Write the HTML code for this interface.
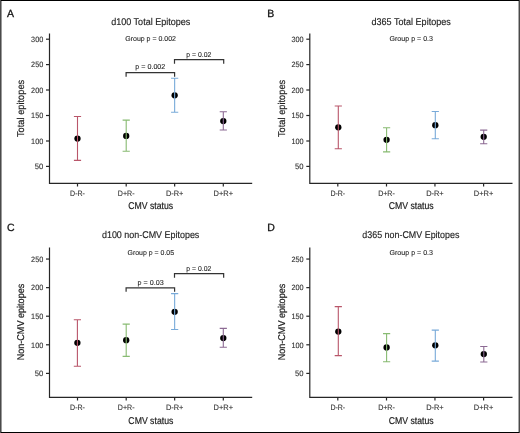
<!DOCTYPE html>
<html><head><meta charset="utf-8"><title>Epitopes by CMV status</title>
<style>
html,body{margin:0;padding:0;background:#fff;}
body{width:520px;height:433px;overflow:hidden;position:relative;}
svg{position:absolute;left:0;top:0;display:block;}
text{font-family:"Liberation Sans", sans-serif;text-rendering:geometricPrecision;stroke-width:0.3px;paint-order:stroke;}
.lt{font-size:10.5px;fill:#111;stroke:#111;}
.tt{font-size:9.8px;fill:#222;stroke:#222;stroke-width:0.15px;text-anchor:middle;}
.gp{font-size:7.1px;fill:#222;stroke:#222;stroke-width:0.1px;text-anchor:middle;}
.yt{font-size:7.8px;fill:#333;stroke:#333;stroke-width:0.12px;text-anchor:end;}
.xt{font-size:7.8px;fill:#333;stroke:#333;stroke-width:0.12px;text-anchor:middle;}
.at{font-size:9.9px;fill:#222;stroke:#222;stroke-width:0.2px;text-anchor:middle;}
.bt{font-size:7.1px;fill:#222;stroke:#222;stroke-width:0.1px;text-anchor:middle;}
.ax{stroke:#262626;stroke-width:1.2;fill:none;}
.br{stroke:#333;stroke-width:1.2;fill:none;}
</style></head>
<body>
<svg width="520" height="433" viewBox="0 0 520 433">
<defs><filter id="gs" x="0" y="0" width="520" height="433" filterUnits="userSpaceOnUse"><feColorMatrix type="saturate" values="0"/></filter></defs>
<rect x="0" y="0" width="520" height="433" fill="#fff"/>
<path d="M49.5 33.5V183.3H252.2" class="ax"/>
<path d="M46 39.2H49.5" class="ax"/>
<path d="M46 64.6H49.5" class="ax"/>
<path d="M46 90H49.5" class="ax"/>
<path d="M46 115.5H49.5" class="ax"/>
<path d="M46 141H49.5" class="ax"/>
<path d="M46 166.4H49.5" class="ax"/>
<path d="M77.5 183.3V186.5" class="ax"/>
<path d="M126.2 183.3V186.5" class="ax"/>
<path d="M174.65 183.3V186.5" class="ax"/>
<path d="M223.3 183.3V186.5" class="ax"/>
<circle cx="77.5" cy="138.6" r="3.15" fill="#000"/>
<circle cx="126.2" cy="135.9" r="3.15" fill="#000"/>
<circle cx="174.65" cy="95.3" r="3.15" fill="#000"/>
<circle cx="223.3" cy="121.1" r="3.15" fill="#000"/>
<path d="M73.9 116.5H81.1M77.5 116.5V160.4M73.9 160.4H81.1" stroke="#b9566a" stroke-width="1.1" fill="none"/>
<path d="M122.6 120.1H129.8M126.2 120.1V151.2M122.6 151.2H129.8" stroke="#88bb72" stroke-width="1.1" fill="none"/>
<path d="M171.05 78.3H178.25M174.65 78.3V112.2M171.05 112.2H178.25" stroke="#78aad9" stroke-width="1.1" fill="none"/>
<path d="M219.7 111.7H226.9M223.3 111.7V130M219.7 130H226.9" stroke="#8c6a93" stroke-width="1.1" fill="none"/>
<path d="M126.1 76.7V72.6H174.6V76.7" class="br"/>
<path d="M174.5 63.7V59.65H223.7V63.7" class="br"/>
<path d="M309.8 33.5V183.3H512.5" class="ax"/>
<path d="M306.3 39.2H309.8" class="ax"/>
<path d="M306.3 64.6H309.8" class="ax"/>
<path d="M306.3 90H309.8" class="ax"/>
<path d="M306.3 115.5H309.8" class="ax"/>
<path d="M306.3 141H309.8" class="ax"/>
<path d="M306.3 166.4H309.8" class="ax"/>
<path d="M337.8 183.3V186.5" class="ax"/>
<path d="M386.5 183.3V186.5" class="ax"/>
<path d="M434.95 183.3V186.5" class="ax"/>
<path d="M483.6 183.3V186.5" class="ax"/>
<circle cx="338.3" cy="127.3" r="3.15" fill="#000"/>
<circle cx="386.6" cy="139.8" r="3.15" fill="#000"/>
<circle cx="435.3" cy="125.2" r="3.15" fill="#000"/>
<circle cx="483.7" cy="136.8" r="3.15" fill="#000"/>
<path d="M334.7 106H341.9M338.3 106V148.7M334.7 148.7H341.9" stroke="#b9566a" stroke-width="1.1" fill="none"/>
<path d="M383 127.7H390.2M386.6 127.7V151.9M383 151.9H390.2" stroke="#88bb72" stroke-width="1.1" fill="none"/>
<path d="M431.7 111.5H438.9M435.3 111.5V138.75M431.7 138.75H438.9" stroke="#78aad9" stroke-width="1.1" fill="none"/>
<path d="M480.1 130.1H487.3M483.7 130.1V143.7M480.1 143.7H487.3" stroke="#8c6a93" stroke-width="1.1" fill="none"/>
<path d="M49.5 247.5V397.3H252.2" class="ax"/>
<path d="M46 259.05H49.5" class="ax"/>
<path d="M46 287.64H49.5" class="ax"/>
<path d="M46 316.2H49.5" class="ax"/>
<path d="M46 344.8H49.5" class="ax"/>
<path d="M46 373.4H49.5" class="ax"/>
<path d="M77.5 397.3V400.5" class="ax"/>
<path d="M126.2 397.3V400.5" class="ax"/>
<path d="M174.65 397.3V400.5" class="ax"/>
<path d="M223.3 397.3V400.5" class="ax"/>
<circle cx="77.4" cy="342.8" r="3.15" fill="#000"/>
<circle cx="126.2" cy="340.2" r="3.15" fill="#000"/>
<circle cx="174.65" cy="311.8" r="3.15" fill="#000"/>
<circle cx="223.3" cy="338.1" r="3.15" fill="#000"/>
<path d="M73.8 319.7H81M77.4 319.7V366.3M73.8 366.3H81" stroke="#b9566a" stroke-width="1.1" fill="none"/>
<path d="M122.6 324.1H129.8M126.2 324.1V356.4M122.6 356.4H129.8" stroke="#88bb72" stroke-width="1.1" fill="none"/>
<path d="M171.05 293.6H178.25M174.65 293.6V329.5M171.05 329.5H178.25" stroke="#78aad9" stroke-width="1.1" fill="none"/>
<path d="M219.7 328.4H226.9M223.3 328.4V347.3M219.7 347.3H226.9" stroke="#8c6a93" stroke-width="1.1" fill="none"/>
<path d="M126.1 291.8V287.8H174.6V291.8" class="br"/>
<path d="M174.5 277.7V273.7H223.65V277.7" class="br"/>
<path d="M309.8 247.5V397.3H512.5" class="ax"/>
<path d="M306.3 259.05H309.8" class="ax"/>
<path d="M306.3 287.64H309.8" class="ax"/>
<path d="M306.3 316.2H309.8" class="ax"/>
<path d="M306.3 344.8H309.8" class="ax"/>
<path d="M306.3 373.4H309.8" class="ax"/>
<path d="M337.8 397.3V400.5" class="ax"/>
<path d="M386.5 397.3V400.5" class="ax"/>
<path d="M434.95 397.3V400.5" class="ax"/>
<path d="M483.6 397.3V400.5" class="ax"/>
<circle cx="338.3" cy="331.6" r="3.15" fill="#000"/>
<circle cx="386.6" cy="347.4" r="3.15" fill="#000"/>
<circle cx="435.3" cy="345.3" r="3.15" fill="#000"/>
<circle cx="483.8" cy="354.1" r="3.15" fill="#000"/>
<path d="M334.7 306.6H341.9M338.3 306.6V355.6M334.7 355.6H341.9" stroke="#b9566a" stroke-width="1.1" fill="none"/>
<path d="M383 333.6H390.2M386.6 333.6V361.8M383 361.8H390.2" stroke="#88bb72" stroke-width="1.1" fill="none"/>
<path d="M431.7 330.1H438.9M435.3 330.1V361.1M431.7 361.1H438.9" stroke="#78aad9" stroke-width="1.1" fill="none"/>
<path d="M480.2 346.5H487.4M483.8 346.5V362M480.2 362H487.4" stroke="#8c6a93" stroke-width="1.1" fill="none"/>
<g filter="url(#gs)"><text x="7" y="16.6" class="lt">A</text>
<text x="43.3" y="41.9" class="yt" textLength="12.2" lengthAdjust="spacingAndGlyphs">300</text>
<text x="43.3" y="67.3" class="yt" textLength="12.2" lengthAdjust="spacingAndGlyphs">250</text>
<text x="43.3" y="92.7" class="yt" textLength="12.2" lengthAdjust="spacingAndGlyphs">200</text>
<text x="43.3" y="118.2" class="yt" textLength="12.2" lengthAdjust="spacingAndGlyphs">150</text>
<text x="43.3" y="143.7" class="yt" textLength="12.2" lengthAdjust="spacingAndGlyphs">100</text>
<text x="43.3" y="169.1" class="yt" textLength="8.5" lengthAdjust="spacingAndGlyphs">50</text>
<text x="77.5" y="196.3" class="xt" textLength="14.8" lengthAdjust="spacingAndGlyphs">D-R-</text>
<text x="126.2" y="196.3" class="xt" textLength="16.7" lengthAdjust="spacingAndGlyphs">D+R-</text>
<text x="174.65" y="196.3" class="xt" textLength="17.5" lengthAdjust="spacingAndGlyphs">D-R+</text>
<text x="223.3" y="196.3" class="xt" textLength="19.5" lengthAdjust="spacingAndGlyphs">D+R+</text>
<text x="267.3" y="16.6" class="lt">B</text>
<text x="303.6" y="41.9" class="yt" textLength="12.2" lengthAdjust="spacingAndGlyphs">300</text>
<text x="303.6" y="67.3" class="yt" textLength="12.2" lengthAdjust="spacingAndGlyphs">250</text>
<text x="303.6" y="92.7" class="yt" textLength="12.2" lengthAdjust="spacingAndGlyphs">200</text>
<text x="303.6" y="118.2" class="yt" textLength="12.2" lengthAdjust="spacingAndGlyphs">150</text>
<text x="303.6" y="143.7" class="yt" textLength="12.2" lengthAdjust="spacingAndGlyphs">100</text>
<text x="303.6" y="169.1" class="yt" textLength="8.5" lengthAdjust="spacingAndGlyphs">50</text>
<text x="337.8" y="196.3" class="xt" textLength="14.8" lengthAdjust="spacingAndGlyphs">D-R-</text>
<text x="386.5" y="196.3" class="xt" textLength="16.7" lengthAdjust="spacingAndGlyphs">D+R-</text>
<text x="434.95" y="196.3" class="xt" textLength="17.5" lengthAdjust="spacingAndGlyphs">D-R+</text>
<text x="483.6" y="196.3" class="xt" textLength="19.5" lengthAdjust="spacingAndGlyphs">D+R+</text>
<text x="7" y="230.6" class="lt">C</text>
<text x="43.3" y="261.75" class="yt" textLength="12.2" lengthAdjust="spacingAndGlyphs">250</text>
<text x="43.3" y="290.34" class="yt" textLength="12.2" lengthAdjust="spacingAndGlyphs">200</text>
<text x="43.3" y="318.9" class="yt" textLength="12.2" lengthAdjust="spacingAndGlyphs">150</text>
<text x="43.3" y="347.5" class="yt" textLength="12.2" lengthAdjust="spacingAndGlyphs">100</text>
<text x="43.3" y="376.1" class="yt" textLength="8.5" lengthAdjust="spacingAndGlyphs">50</text>
<text x="77.5" y="410.3" class="xt" textLength="14.8" lengthAdjust="spacingAndGlyphs">D-R-</text>
<text x="126.2" y="410.3" class="xt" textLength="16.7" lengthAdjust="spacingAndGlyphs">D+R-</text>
<text x="174.65" y="410.3" class="xt" textLength="17.5" lengthAdjust="spacingAndGlyphs">D-R+</text>
<text x="223.3" y="410.3" class="xt" textLength="19.5" lengthAdjust="spacingAndGlyphs">D+R+</text>
<text x="267.3" y="230.6" class="lt">D</text>
<text x="303.6" y="261.75" class="yt" textLength="12.2" lengthAdjust="spacingAndGlyphs">250</text>
<text x="303.6" y="290.34" class="yt" textLength="12.2" lengthAdjust="spacingAndGlyphs">200</text>
<text x="303.6" y="318.9" class="yt" textLength="12.2" lengthAdjust="spacingAndGlyphs">150</text>
<text x="303.6" y="347.5" class="yt" textLength="12.2" lengthAdjust="spacingAndGlyphs">100</text>
<text x="303.6" y="376.1" class="yt" textLength="8.5" lengthAdjust="spacingAndGlyphs">50</text>
<text x="337.8" y="410.3" class="xt" textLength="14.8" lengthAdjust="spacingAndGlyphs">D-R-</text>
<text x="386.5" y="410.3" class="xt" textLength="16.7" lengthAdjust="spacingAndGlyphs">D+R-</text>
<text x="434.95" y="410.3" class="xt" textLength="17.5" lengthAdjust="spacingAndGlyphs">D-R+</text>
<text x="483.6" y="410.3" class="xt" textLength="19.5" lengthAdjust="spacingAndGlyphs">D+R+</text>
<text x="150.75" y="24.5" class="tt" textLength="79.2" lengthAdjust="spacingAndGlyphs">d100 Total Epitopes</text>
<text x="411.15" y="24.5" class="tt" textLength="79.2" lengthAdjust="spacingAndGlyphs">d365 Total Epitopes</text>
<text x="150.65" y="238.3" class="tt" textLength="97.4" lengthAdjust="spacingAndGlyphs">d100 non-CMV Epitopes</text>
<text x="410.85" y="238.3" class="tt" textLength="97" lengthAdjust="spacingAndGlyphs">d365 non-CMV Epitopes</text>
<text x="150.6" y="41.2" class="gp" textLength="50.7" lengthAdjust="spacingAndGlyphs">Group p = 0.002</text>
<text x="411.25" y="41.2" class="gp" textLength="43.6" lengthAdjust="spacingAndGlyphs">Group p = 0.3</text>
<text x="150.8" y="255.2" class="gp" textLength="46.5" lengthAdjust="spacingAndGlyphs">Group p = 0.05</text>
<text x="411.25" y="255.2" class="gp" textLength="43.6" lengthAdjust="spacingAndGlyphs">Group p = 0.3</text>
<text x="150.65" y="209.4" class="at" textLength="45" lengthAdjust="spacingAndGlyphs">CMV status</text>
<text x="411.15" y="209.4" class="at" textLength="45" lengthAdjust="spacingAndGlyphs">CMV status</text>
<text x="150.85" y="423.6" class="at" textLength="45" lengthAdjust="spacingAndGlyphs">CMV status</text>
<text x="411.15" y="423.6" class="at" textLength="45" lengthAdjust="spacingAndGlyphs">CMV status</text>
<text x="150.3" y="69" class="bt" textLength="30.1" lengthAdjust="spacingAndGlyphs">p = 0.002</text>
<text x="198.85" y="56.5" class="bt" textLength="25" lengthAdjust="spacingAndGlyphs">p = 0.02</text>
<text x="150.6" y="284.5" class="bt" textLength="26.1" lengthAdjust="spacingAndGlyphs">p = 0.03</text>
<text x="198.85" y="270.5" class="bt" textLength="25" lengthAdjust="spacingAndGlyphs">p = 0.02</text>
<text transform="translate(24.3 108.4) rotate(-90)" x="0" y="0" class="at" textLength="57.3" lengthAdjust="spacingAndGlyphs">Total epitopes</text>
<text transform="translate(284.5 108.4) rotate(-90)" x="0" y="0" class="at" textLength="57.3" lengthAdjust="spacingAndGlyphs">Total epitopes</text>
<text transform="translate(24.3 322.05) rotate(-90)" x="0" y="0" class="at" textLength="76.6" lengthAdjust="spacingAndGlyphs">Non-CMV epitopes</text>
<text transform="translate(284.5 322.05) rotate(-90)" x="0" y="0" class="at" textLength="76.6" lengthAdjust="spacingAndGlyphs">Non-CMV epitopes</text></g>
<path d="M0 0.5H520M0 432.5H520" stroke="#000" stroke-width="1"/>
<path d="M0.5 0V433" stroke="#4a4a4a" stroke-width="1"/>
<path d="M1.5 1V432" stroke="#9a9a9a" stroke-width="1"/>
<path d="M519.5 0V433" stroke="#4a4a4a" stroke-width="1"/>
<path d="M518.5 1V432" stroke="#aaaaaa" stroke-width="1"/>
</svg>
</body></html>
